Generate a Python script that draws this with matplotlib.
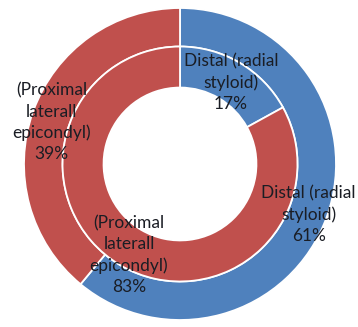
import numpy as np
import matplotlib
matplotlib.use("Agg")
import matplotlib.pyplot as plt

# Outer ring and inner ring shares (percent)
categories = ["Distal (radial\nstyloid)", "(Proximal\nlaterall\nepicondyl)"]
outer_values = [61, 39]
inner_values = [17, 83]
colors = ["#4F81BD", "#C0504D"]

fig = plt.figure(figsize=(3.58, 3.27), dpi=100)
ax = fig.add_axes([24 / 358, 7 / 327, 312 / 358, 312 / 327])
ax.axis("off")

R_OUT, R_MID, R_IN = 1.0, 0.753, 0.49
wedge_style = dict(edgecolor="white", linewidth=1.3)

outer, _ = ax.pie(outer_values, radius=R_OUT, colors=colors, startangle=90,
                  counterclock=False, wedgeprops=dict(width=R_OUT - R_MID, **wedge_style))
inner, _ = ax.pie(inner_values, radius=R_MID, colors=colors, startangle=90,
                  counterclock=False, wedgeprops=dict(width=R_MID - R_IN, **wedge_style))
ax.set_xlim(-1, 1)
ax.set_ylim(-1, 1)
ax.set_aspect("equal")

font = dict(family=["Lato", "DejaVu Sans"], fontsize=12.5, color="#1a1d24",
            ha="center", va="center", linespacing=1.38)

def label_ring(wedges, values, r):
    for w, cat, v in zip(wedges, categories, values):
        mid = np.deg2rad((w.theta1 + w.theta2) / 2)
        ax.text(r * np.cos(mid), r * np.sin(mid) - 0.03, f"{cat}\n{v}%", **font)

label_ring(outer, outer_values, (R_OUT + R_MID) / 2)
label_ring(inner, inner_values, (R_MID + R_IN) / 2 + 0.02)

fig.savefig("out.png", dpi=100)
